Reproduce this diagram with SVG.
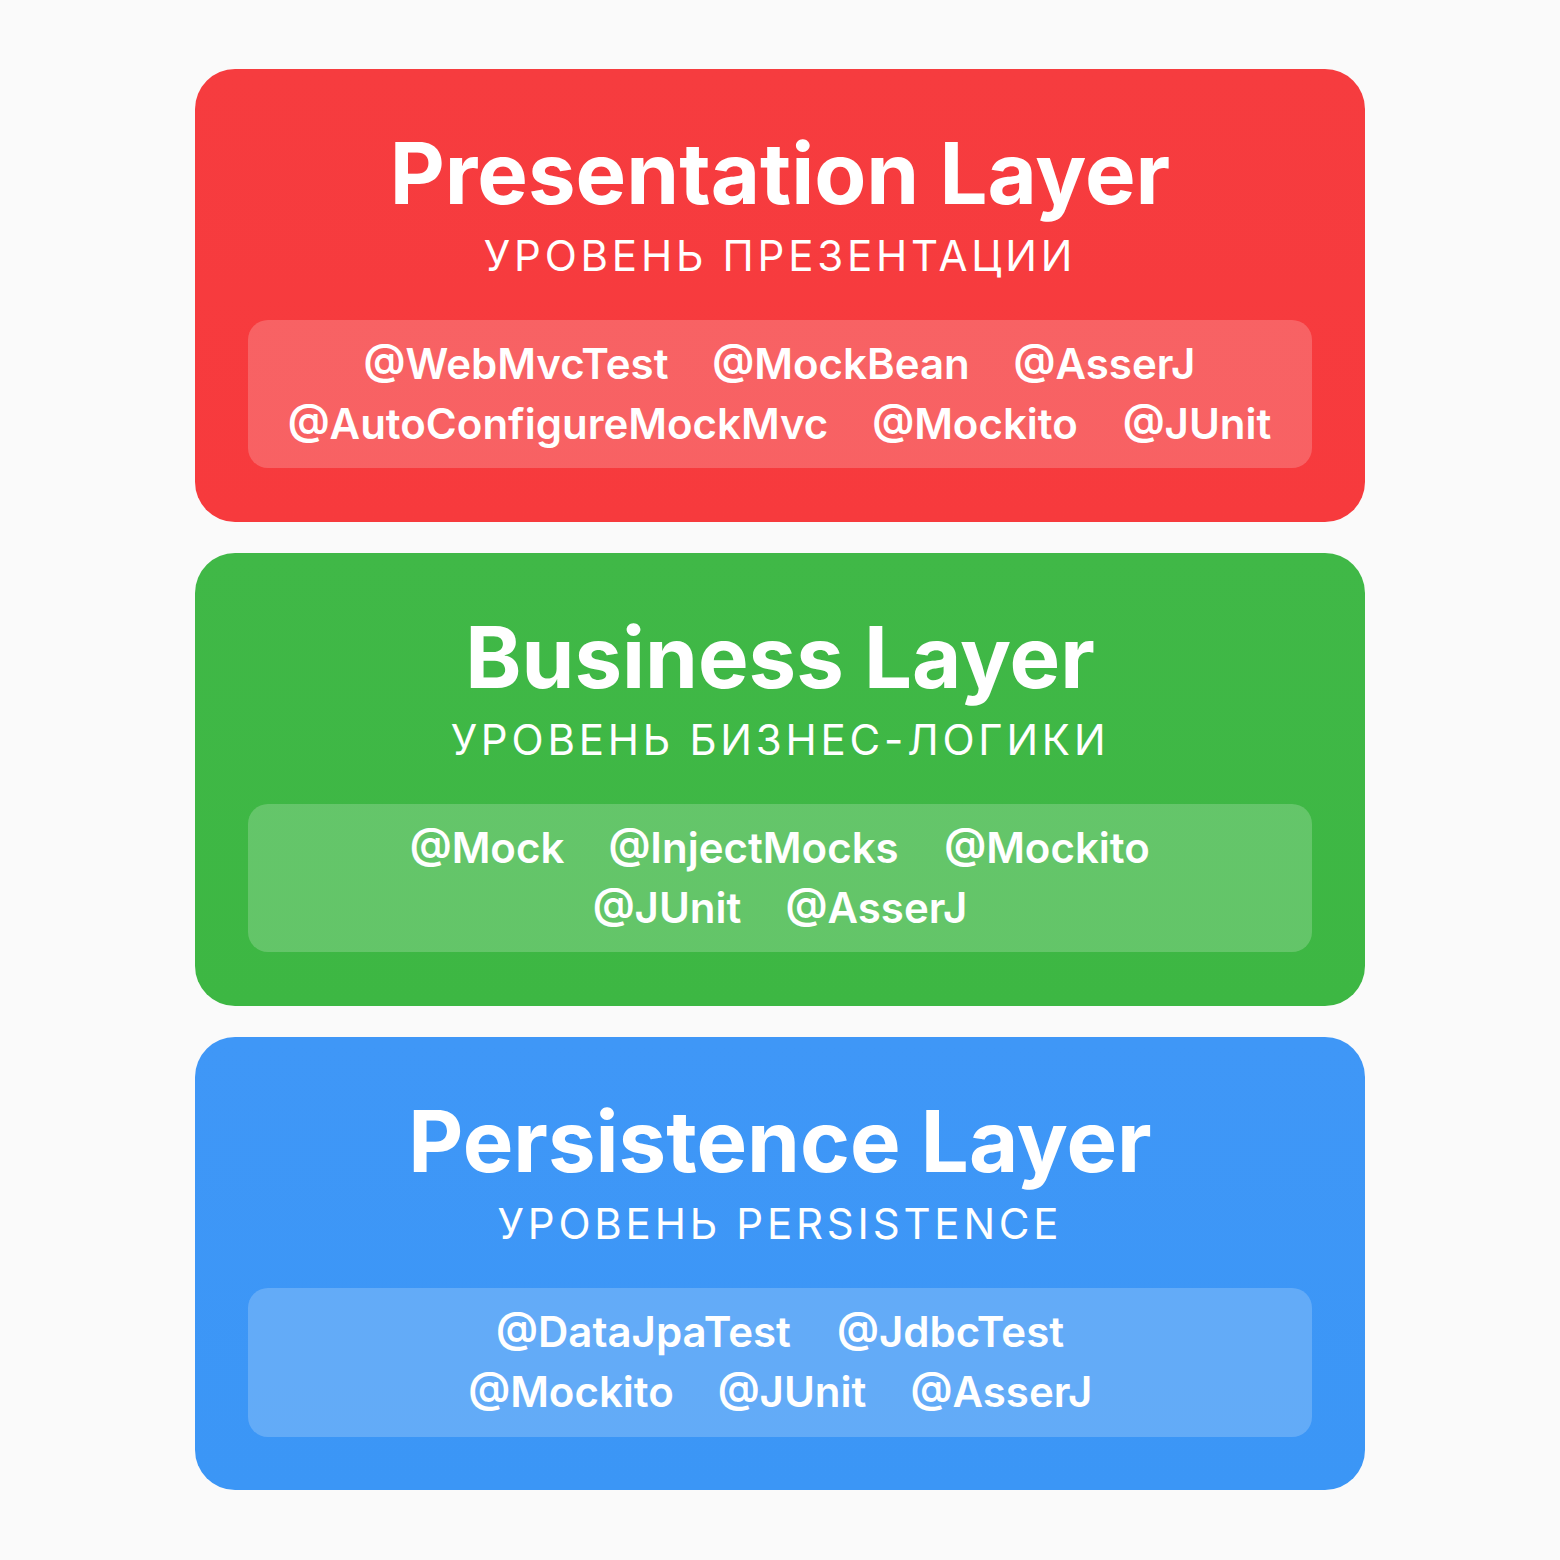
<svg xmlns="http://www.w3.org/2000/svg" width="1560" height="1560" viewBox="0 0 1560 1560">
<defs>
<style>
.title{font-family:Inter,"Noto Sans",sans-serif;font-weight:700;font-size:85px;fill:#fff;text-anchor:middle}
.sub{font-family:Inter,"Noto Sans",sans-serif;font-weight:400;font-size:42px;fill:#fff;text-anchor:middle;letter-spacing:3.8px}
.tag{font-family:Inter,"Noto Sans",sans-serif;font-weight:600;font-size:42px;fill:#fff;text-anchor:middle}
.panel{fill:#fff;fill-opacity:0.2}
</style>
<linearGradient id="gr" x1="0" y1="0" x2="0" y2="1"><stop offset="0" stop-color="#f63c3f"/><stop offset="1" stop-color="#f73a3d"/></linearGradient>
<linearGradient id="gg" x1="0" y1="0" x2="0" y2="1"><stop offset="0" stop-color="#40b847"/><stop offset="1" stop-color="#3db743"/></linearGradient>
<linearGradient id="gb" x1="0" y1="0" x2="0" y2="1"><stop offset="0" stop-color="#3f97f7"/><stop offset="1" stop-color="#3b96f6"/></linearGradient>
</defs>
<rect width="1560" height="1560" fill="#fafafa"/>
<g id="presentation">
<rect x="195" y="69" width="1170" height="453" rx="40" fill="url(#gr)"/>
<text class="title" x="780" y="204">Presentation Layer</text>
<text class="sub" x="780" y="271">УРОВЕНЬ ПРЕЗЕНТАЦИИ</text>
<rect class="panel" x="248" y="320" width="1064" height="148" rx="20"/>
<text class="tag" x="516" y="379">@WebMvcTest</text>
<text class="tag" x="841" y="379">@MockBean</text>
<text class="tag" x="1104.5" y="379">@AsserJ</text>
<text class="tag" x="558" y="439">@AutoConfigureMockMvc</text>
<text class="tag" x="975" y="439">@Mockito</text>
<text class="tag" x="1197" y="439">@JUnit</text>
</g>
<g id="business">
<rect x="195" y="553" width="1170" height="453" rx="40" fill="url(#gg)"/>
<text class="title" x="780" y="688">Business Layer</text>
<text class="sub" x="780" y="755">УРОВЕНЬ БИЗНЕС-ЛОГИКИ</text>
<rect class="panel" x="248" y="804" width="1064" height="148" rx="20"/>
<text class="tag" x="487" y="863">@Mock</text>
<text class="tag" x="753.5" y="863">@InjectMocks</text>
<text class="tag" x="1047" y="863">@Mockito</text>
<text class="tag" x="667" y="923">@JUnit</text>
<text class="tag" x="876.5" y="923">@AsserJ</text>
</g>
<g id="persistence">
<rect x="195" y="1037" width="1170" height="453" rx="40" fill="url(#gb)"/>
<text class="title" x="780" y="1172">Persistence Layer</text>
<text class="sub" x="780" y="1239">УРОВЕНЬ PERSISTENCE</text>
<rect class="panel" x="248" y="1288" width="1064" height="149" rx="20"/>
<text class="tag" x="643.5" y="1347">@DataJpaTest</text>
<text class="tag" x="950.5" y="1347">@JdbcTest</text>
<text class="tag" x="571" y="1407">@Mockito</text>
<text class="tag" x="792" y="1407">@JUnit</text>
<text class="tag" x="1001.5" y="1407">@AsserJ</text>
</g>
<g id="connectors"/>
</svg>
